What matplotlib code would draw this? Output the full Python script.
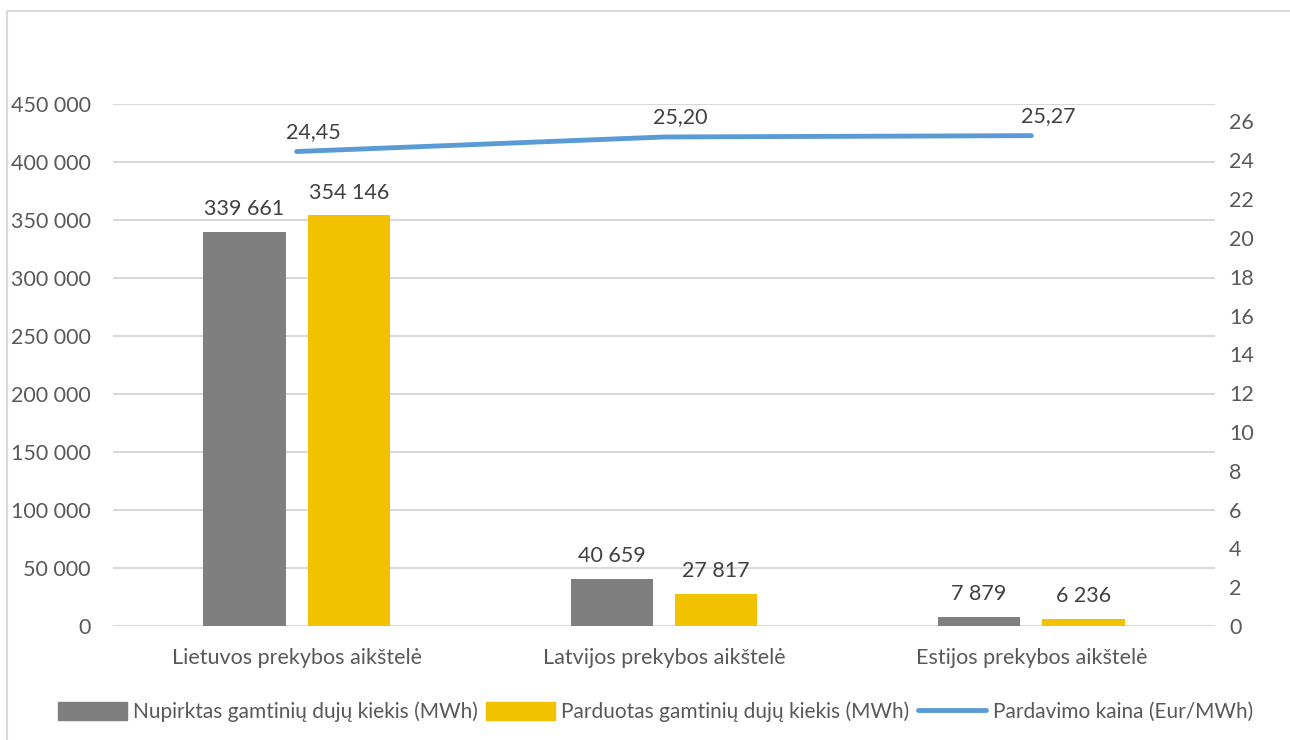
import numpy as np
import matplotlib.pyplot as plt
from matplotlib.patches import Rectangle
from matplotlib.lines import Line2D

categories = ['Lietuvos prekybos aikštelė', 'Latvijos prekybos aikštelė', 'Estijos prekybos aikštelė']
bought = [339661, 40659, 7879]
sold = [354146, 27817, 6236]
price = [24.45, 25.20, 25.27]

bought_name = 'Nupirktas gamtinių dujų kiekis (MWh)'
sold_name = 'Parduotas gamtinių dujų kiekis (MWh)'
price_name = 'Pardavimo kaina (Eur/MWh)'

GRAY = '#7f7f7f'
GOLD = '#f2c200'
BLUE = '#5b9bd5'
TXT = '#595959'
GRID = '#d9d9d9'

plt.rcParams['font.family'] = ['Lato', 'DejaVu Sans']
FS = 15.5


def fmt_thousands(v):
    return f'{int(round(v)):,}'.replace(',', ' ')


fig = plt.figure(figsize=(12.9, 7.4), dpi=100)
fig.patches.append(Rectangle((7 / 1290, -0.1), 1.2, 1.1 - 11 / 740, transform=fig.transFigure,
                             fill=False, edgecolor='#d9d9d9', linewidth=1.5))

ax = fig.add_axes([113 / 1290, 1 - 626 / 740, (1215 - 113) / 1290, (626 - 104) / 740])
ax2 = ax.twinx()

x = np.arange(len(categories))
w = 0.224
off = 0.142
b1 = ax.bar(x - off, bought, w, color=GRAY, zorder=3)
b2 = ax.bar(x + off, sold, w, color=GOLD, zorder=3)

for bars, vals in ((b1, bought), (b2, sold)):
    for r, v in zip(bars, vals):
        ax.annotate(fmt_thousands(v), (r.get_x() + r.get_width() / 2, v), xytext=(0, 9),
                    textcoords='offset points', ha='center', va='bottom', fontsize=FS, color='#404040')

ax2.plot(x, price, color=BLUE, linewidth=3.5, solid_capstyle='round', zorder=4)
for xi, p in zip(x, price):
    ax2.annotate(f'{p:.2f}'.replace('.', ','), (xi, p), xytext=(12, 7), textcoords='offset points',
                 ha='center', va='bottom', fontsize=FS, color='#404040')

ax.set_xlim(-0.5, 2.5)
ax.set_ylim(0, 450000)
ax.set_yticks(np.arange(0, 450001, 50000))
ax.set_yticklabels([fmt_thousands(v) for v in np.arange(0, 450001, 50000)])
ax2.set_ylim(0, 26.9)
ax2.set_yticks(np.arange(0, 27, 2))

ax.set_xticks(x)
ax.set_xticklabels(categories)
ax.grid(axis='y', color=GRID, linewidth=1.5, zorder=0)
ax.set_axisbelow(True)

for a in (ax, ax2):
    for s in a.spines.values():
        s.set_visible(False)
    a.tick_params(length=0, labelsize=FS, colors=TXT)
ax.tick_params(axis='y', pad=16)
ax.tick_params(axis='x', pad=16)
ax2.tick_params(axis='y', pad=10)

handles = [Rectangle((0, 0), 1, 1, color=GRAY), Rectangle((0, 0), 1, 1, color=GOLD),
           Line2D([0], [0], color=BLUE, linewidth=3.5, solid_capstyle='round')]
fig.legend(handles, [bought_name, sold_name, price_name], loc='center', bbox_to_anchor=(0.508, 1 - 712 / 740),
           ncol=3, frameon=False, fontsize=15, labelcolor=TXT, handlelength=3.3, handleheight=1.0,
           handletextpad=0.3, columnspacing=0.4)

fig.savefig('out.png', dpi=100, facecolor='white')
